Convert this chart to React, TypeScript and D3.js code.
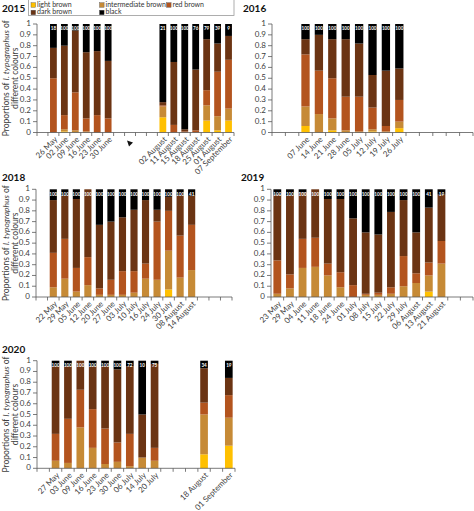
import React from "react";
import * as d3 from "d3";

const SERIES = ["light brown", "intermediate brown", "red brown", "dark brown", "black"];
const COLORS = ["#FFC000", "#C68A36", "#B3541E", "#6B3413", "#000000"];
const Y_TICKS = [0, 0.1, 0.2, 0.3, 0.4, 0.5, 0.6, 0.7, 0.8, 0.9, 1];
const FONT = "Lato, 'Open Sans', sans-serif";

// ---------- 2015 ----------
const cats2015 = ["", "26 May", "02 June", "09 June", "16 June", "23 June", "30 June", "", "", "", "", "02 August", "11 August", "15 August", "18 August", "25 August", "01 August", "07 September"];
const light2015 = [0, 0.01, 0, 0, 0, 0, 0.14, 0, 0, 0, 0.11, 0.02, 0.11];
const inter2015 = [0, 0.02, 0.02, 0.01, 0, 0, 0.10, 0, 0, 0, 0.14, 0.13, 0.11];
const red2015 = [0.50, 0.13, 0.35, 0.12, 0.16, 0.13, 0.01, 0.07, 0.01, 0.02, 0.14, 0.41, 0.45];
const dark2015 = [0.28, 0.64, 0.57, 0.61, 0.59, 0.53, 0.03, 0.58, 0.02, 0.56, 0.47, 0.26, 0.22];
const black2015 = [0.22, 0.20, 0.06, 0.26, 0.25, 0.34, 0.72, 0.35, 0.97, 0.42, 0.14, 0.18, 0.11];
const n2015 = ["18", "100", "100", "100", "100", "100", "21", "100", "100", "76", "79", "39", "9"];

// ---------- 2016 ----------
const cats2016 = ["", "", "07 June", "14 June", "21 June", "28 June", "05 July", "12 July", "19 July", "26 July", "", "", "", "", ""];
const light2016 = [0.06, 0, 0.02, 0, 0, 0.01, 0, 0.04];
const inter2016 = [0.18, 0.17, 0.11, 0.02, 0.01, 0.02, 0.01, 0.06];
const red2016 = [0.48, 0.40, 0.37, 0.31, 0.32, 0.20, 0.05, 0.20];
const dark2016 = [0.14, 0.33, 0.36, 0.53, 0.49, 0.30, 0.51, 0.29];
const black2016 = [0.14, 0.10, 0.14, 0.14, 0.18, 0.47, 0.43, 0.41];
const n2016 = ["100", "100", "100", "100", "100", "100", "100", "100"];

// ---------- 2018 ----------
const cats2018 = ["", "22 May", "29 May", "05 June", "12 June", "20 June", "27 June", "03 July", "10 July", "16 July", "24 July", "30 July", "08 August", "14 August", "", "", ""];
const light2018 = [0, 0, 0, 0, 0, 0, 0, 0, 0, 0, 0.07, 0, 0];
const inter2018 = [0.09, 0.17, 0.05, 0.11, 0.02, 0.02, 0.02, 0.04, 0.17, 0.16, 0.36, 0.18, 0.25];
const red2018 = [0.32, 0.37, 0.22, 0.26, 0.06, 0.14, 0.22, 0.20, 0.14, 0.54, 0.37, 0.39, 0.42];
const dark2018 = [0.49, 0.40, 0.64, 0.63, 0.59, 0.54, 0.50, 0.57, 0.59, 0.11, 0.13, 0.37, 0.27];
const black2018 = [0.10, 0.06, 0.09, 0, 0.33, 0.30, 0.26, 0.19, 0.10, 0.19, 0.07, 0.06, 0.06];
const n2018 = ["100", "100", "100", "100", "100", "100", "100", "100", "100", "100", "100", "100", "41"];

// ---------- 2019 ----------
const cats2019 = ["23 May", "29 May", "04 June", "11 June", "18 June", "24 June", "01 July", "08 July", "15 July", "22 July", "29 July", "06 August", "13 August", "21 August", "", ""];
const light2019 = [0, 0, 0, 0, 0, 0, 0, 0, 0, 0, 0, 0, 0.05, 0];
const inter2019 = [0.03, 0.08, 0.27, 0.28, 0.20, 0.09, 0, 0.02, 0.02, 0.03, 0.10, 0.13, 0.15, 0.31];
const red2019 = [0.31, 0.13, 0.27, 0.27, 0.11, 0.14, 0.11, 0.01, 0.02, 0.06, 0.28, 0.09, 0.12, 0.21];
const dark2019 = [0.61, 0.73, 0.43, 0.45, 0.60, 0.68, 0.62, 0.57, 0.54, 0.70, 0.52, 0.38, 0.51, 0.43];
const black2019 = [0.05, 0.06, 0.03, 0, 0.09, 0.09, 0.27, 0.40, 0.42, 0.21, 0.10, 0.40, 0.17, 0.05];
const n2019 = ["100", "100", "100", "100", "100", "100", "100", "100", "100", "100", "100", "100", "41", "19"];

// ---------- 2020 ----------
const cats2020 = ["", "27 May", "03 June", "09 June", "16 June", "23 June", "30 June", "06 July", "14 July", "20 July", "", "", "", "18 August", "", "01 September"];
const light2020 = [0, 0, 0, 0, 0, 0, 0, 0, 0, 0.13, 0.21];
const inter2020 = [0.07, 0.05, 0.38, 0.19, 0.04, 0.06, 0.02, 0.10, 0.07, 0.37, 0.26];
const red2020 = [0.25, 0.41, 0.35, 0.36, 0.33, 0.18, 0.30, 0, 0.12, 0.11, 0.21];
const dark2020 = [0.63, 0.49, 0.27, 0.40, 0.58, 0.68, 0.63, 0.40, 0.78, 0.32, 0.16];
const black2020 = [0.05, 0.05, 0, 0.05, 0.05, 0.08, 0.05, 0.50, 0.03, 0.07, 0.16];
const n2020 = ["100", "100", "100", "100", "100", "100", "72", "10", "75", "34", "19"];

type PanelCfg = {
  year: string;
  yearX: number;
  yearY: number;
  x0: number;
  x1: number;
  yTop: number;
  yBot: number;
  cats: string[];
  series: number[][];
  counts: string[];
  title: boolean;
  arrowSlot?: number;
};

const PANELS: PanelCfg[] = [
  { year: "2015", yearX: 2, yearY: 12, x0: 37, x1: 234, yTop: 24, yBot: 132.5, cats: cats2015, series: [light2015, inter2015, red2015, dark2015, black2015], counts: n2015, title: true, arrowSlot: 8 },
  { year: "2016", yearX: 243, yearY: 12, x0: 272, x1: 473, yTop: 24, yBot: 132.5, cats: cats2016, series: [light2016, inter2016, red2016, dark2016, black2016], counts: n2016, title: false },
  { year: "2018", yearX: 2, yearY: 181, x0: 36, x1: 232, yTop: 189.3, yBot: 297, cats: cats2018, series: [light2018, inter2018, red2018, dark2018, black2018], counts: n2018, title: true },
  { year: "2019", yearX: 241, yearY: 181, x0: 271, x1: 473, yTop: 189.3, yBot: 297, cats: cats2019, series: [light2019, inter2019, red2019, dark2019, black2019], counts: n2019, title: false },
  { year: "2020", yearX: 2, yearY: 353, x0: 37, x1: 235, yTop: 360.7, yBot: 468.3, cats: cats2020, series: [light2020, inter2020, red2020, dark2020, black2020], counts: n2020, title: true },
];

function Panel({ cfg }: { cfg: PanelCfg }) {
  const slots = cfg.cats.map((_, i) => String(i));
  const x = d3.scaleBand<string>().domain(slots).range([cfg.x0, cfg.x1]).paddingInner(0.38).paddingOuter(0.19);
  const y = d3.scaleLinear().domain([0, 1]).range([cfg.yBot, cfg.yTop]);
  const step = x.step();
  const slotLeft = (i: number) => cfg.x0 + i * step;

  const barSlots: number[] = [];
  cfg.cats.forEach((c, i) => { if (c !== "") barSlots.push(i); });
  const rows = barSlots.map((s, k) => {
    const r: any = { slot: String(s), n: cfg.counts[k] };
    SERIES.forEach((name, j) => { r[name] = cfg.series[j][k]; });
    return r;
  });
  const stacked = d3.stack<any>().keys(SERIES)(rows);

  const axisColor = "#595959";
  const midY = (cfg.yTop + cfg.yBot) / 2;

  return (
    <g>
      <text x={cfg.yearX} y={cfg.yearY} fontSize={10} fontWeight="bold" fill="#111" fontFamily={FONT}>{cfg.year}</text>
      {cfg.title && (
        <g fontFamily={FONT} fontSize={8.5} fill="#404040">
          <text transform={`translate(8.5,${midY}) rotate(-90)`} textAnchor="middle">
            Proportions of <tspan fontStyle="italic">I. typographus</tspan> of
          </text>
          <text transform={`translate(17.5,${midY}) rotate(-90)`} textAnchor="middle">different colours</text>
        </g>
      )}
      {stacked.map((layer, j) => (
        <g key={layer.key} fill={COLORS[j]}>
          {layer.map((d, k) => (
            <rect key={k} x={x(d.data.slot)} width={x.bandwidth()} y={y(d[1])} height={Math.max(0, y(d[0]) - y(d[1]))} />
          ))}
        </g>
      ))}
      {rows.map((r, k) => (
        <text key={"n" + k} x={(x(r.slot) as number) + x.bandwidth() / 2} y={y(0.952)} fontSize={4.6} fill="#fff" textAnchor="middle" dominantBaseline="middle" fontFamily={FONT} fontWeight="bold">{r.n}</text>
      ))}
      <line x1={cfg.x0} x2={cfg.x0} y1={cfg.yTop} y2={cfg.yBot} stroke={axisColor} strokeWidth={0.8} />
      {Y_TICKS.map((t) => (
        <g key={t}>
          <line x1={cfg.x0 - 4} x2={cfg.x0} y1={y(t)} y2={y(t)} stroke={axisColor} strokeWidth={0.8} />
          <text x={cfg.x0 - 6} y={y(t)} textAnchor="end" dominantBaseline="middle" fontSize={8} fill="#404040" fontFamily={FONT}>{String(t)}</text>
        </g>
      ))}
      <line x1={cfg.x0} x2={cfg.x1} y1={cfg.yBot} y2={cfg.yBot} stroke={axisColor} strokeWidth={0.8} />
      {d3.range(cfg.cats.length + 1).map((i) => (
        <line key={"t" + i} x1={slotLeft(i)} x2={slotLeft(i)} y1={cfg.yBot} y2={cfg.yBot + 3.5} stroke={axisColor} strokeWidth={0.8} />
      ))}
      {cfg.cats.map((c, i) => c === "" ? null : (
        <text key={"c" + i} transform={`translate(${(x(String(i)) as number) + x.bandwidth() / 2 + 3},${cfg.yBot + 6}) rotate(-45)`} textAnchor="end" dominantBaseline="middle" fontSize={8} fill="#404040" fontFamily={FONT}>{c}</text>
      ))}
      {cfg.arrowSlot !== undefined && (() => {
        const cx = (x(String(cfg.arrowSlot)) as number) + x.bandwidth() / 2;
        const cy = cfg.yBot + 11;
        return <path d={`M${cx - 3},${cy - 3} L${cx + 3},${cy - 1} L${cx - 1},${cy + 3} Z`} fill="#111" />;
      })()}
    </g>
  );
}

function Legend() {
  const items = [
    { i: 0, x: 31, y: 5 },
    { i: 1, x: 99.5, y: 5 },
    { i: 2, x: 166.5, y: 5 },
    { i: 3, x: 31, y: 12.5 },
    { i: 4, x: 99.5, y: 12.5 },
  ];
  return (
    <g fontFamily={FONT}>
      <rect x={28.5} y={-1} width={205.5} height={16.5} fill="#fff" stroke="#9a9a9a" strokeWidth={0.8} />
      {items.map((it) => (
        <g key={it.i}>
          <rect x={it.x} y={it.y - 2.3} width={4.6} height={4.6} fill={COLORS[it.i]} stroke="#555" strokeWidth={0.4} />
          <text x={it.x + 6} y={it.y} dominantBaseline="middle" fontSize={7} fill="#333">{SERIES[it.i]}</text>
        </g>
      ))}
    </g>
  );
}

export default function App() {
  return (
    <svg width={474} height={511} viewBox="0 0 474 511" style={{ position: "absolute", left: 0, top: 0, background: "#fff" }}>
      <rect x={0} y={0} width={474} height={511} fill="#fff" />
      <Legend />
      {PANELS.map((p) => <Panel key={p.year} cfg={p} />)}
    </svg>
  );
}
